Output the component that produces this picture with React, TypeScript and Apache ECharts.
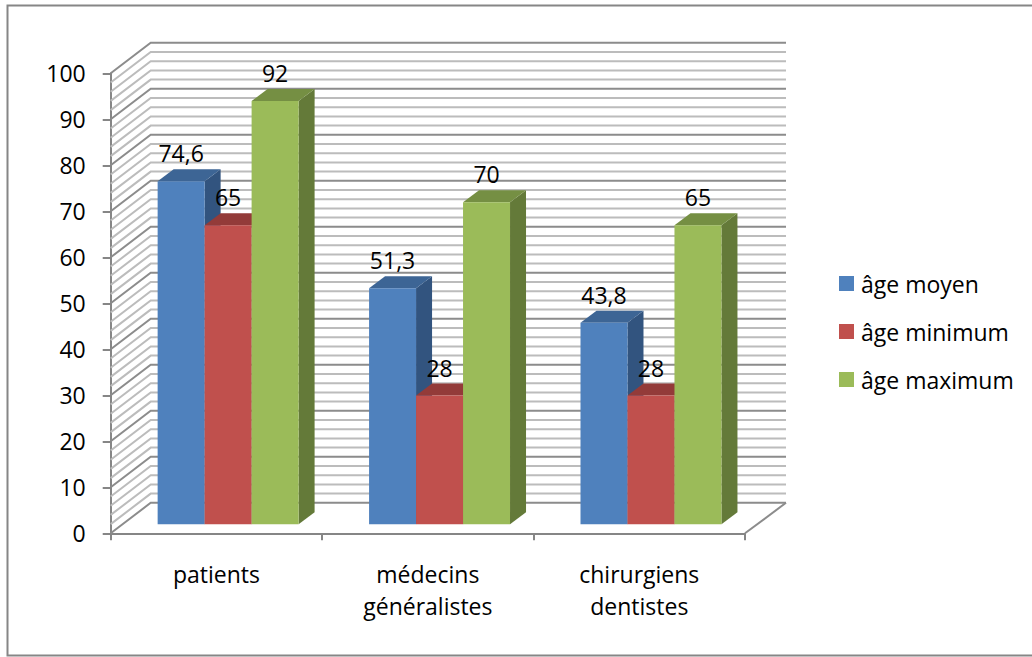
import React, { useEffect, useRef } from "react";
import * as echarts from "echarts";

const categories = ["patients", "médecins\ngénéralistes", "chirurgiens\ndentistes"];
const ageMoyen = [74.6, 51.3, 43.8];
const ageMinimum = [65, 28, 28];
const ageMaximum = [92, 70, 65];
const seriesNames = ["âge moyen", "âge minimum", "âge maximum"];
const wallTicks = [0, 2, 4, 6, 8, 10, 12, 14, 16, 18, 20, 22, 24, 26, 28, 30, 32, 34, 36, 38, 40, 42, 44, 46, 48, 50, 52, 54, 56, 58, 60, 62, 64, 66, 68, 70, 72, 74, 76, 78, 80, 82, 84, 86, 88, 90, 92, 94, 96, 98, 100];

const FONT = "Open Sans";
const faces = [
  { front: "#4f81bd", top: "#3d6595", side: "#32547f" },
  { front: "#c0504d", top: "#933b39", side: "#7c3230" },
  { front: "#9bbb59", top: "#758f43", side: "#647a39" },
];
const WALL_DX = 40;
const WALL_DY = -30.5;
const BAR_DX = 11.7;
const BAR_DY = -9;
const SIDE_DX = 16;
const SIDE_DY = -12;

const fmt = (v: number) => String(v).replace(".", ",");

function barGeom(api: any, seriesIndex: number) {
  const cat = api.value(0);
  const val = api.value(1);
  const top = api.coord([cat, val]);
  const base = api.coord([cat, 0]);
  const bw = api.size([1, 0])[0] / 4.5;
  const left = top[0] + BAR_DX + (seriesIndex - 1.5) * bw;
  return { left, right: left + bw, topY: top[1] + BAR_DY, baseY: base[1] + BAR_DY };
}

function barSeries(seriesIndex: number, values: number[]) {
  const c = faces[seriesIndex];
  return {
    type: "custom",
    name: seriesNames[seriesIndex],
    z: 3 + seriesIndex,
    silent: true,
    clip: false,
    itemStyle: { color: c.front },
    encode: { x: 0, y: 1 },
    data: values.map((v, i) => [i, v]),
    renderItem: (_p: any, api: any) => {
      const { left, right, topY, baseY } = barGeom(api, seriesIndex);
      return {
        type: "group",
        children: [
          {
            type: "polygon",
            shape: { points: [[right, topY], [right + SIDE_DX, topY + SIDE_DY], [right + SIDE_DX, baseY + SIDE_DY], [right, baseY]] },
            style: { fill: c.side },
          },
          {
            type: "polygon",
            shape: { points: [[left, topY], [left + SIDE_DX, topY + SIDE_DY], [right + SIDE_DX, topY + SIDE_DY], [right, topY]] },
            style: { fill: c.top },
          },
          {
            type: "rect",
            shape: { x: left, y: topY, width: right - left, height: baseY - topY },
            style: { fill: c.front },
          },
        ],
      };
    },
  };
}

function labelSeries(seriesIndex: number, values: number[]) {
  return {
    type: "custom",
    name: "étiquettes " + seriesNames[seriesIndex],
    z: 10,
    silent: true,
    clip: false,
    encode: { x: 0, y: 1 },
    data: values.map((v, i) => [i, v]),
    renderItem: (_p: any, api: any) => {
      const { left, right, topY } = barGeom(api, seriesIndex);
      return {
        type: "text",
        x: (left + right) / 2,
        y: topY - 28,
        style: {
          text: fmt(api.value(1)),
          fill: "#000",
          fontSize: 23,
          fontFamily: FONT,
          align: "center",
          verticalAlign: "middle",
        },
      };
    },
  };
}

const wallSeries = {
  type: "custom",
  name: "murs",
  z: 1,
  silent: true,
  clip: false,
  encode: { y: 0 },
  data: wallTicks.map((t) => [0, t]),
  renderItem: (params: any, api: any) => {
    const v = api.value(1);
    const y = api.coord([0, v])[1];
    const x0 = params.coordSys.x;
    const x1 = x0 + params.coordSys.width;
    const major = v % 10 === 0;
    const stroke = major ? "#8c8c8c" : "#bcbcbc";
    const children: any[] = [
      {
        type: "polyline",
        shape: { points: [[x0, y], [x0 + WALL_DX, y + WALL_DY], [x1 + WALL_DX + 1, y + WALL_DY]] },
        style: { stroke, lineWidth: 2, fill: "none" },
      },
    ];
    if (v === 0) {
      children.push({
        type: "line",
        shape: { x1: x1, y1: y, x2: x1 + WALL_DX + 1, y2: y + WALL_DY },
        style: { stroke, lineWidth: 2 },
      });
    }
    return { type: "group", children };
  },
};

export default function App() {
  const ref = useRef<HTMLDivElement>(null);
  useEffect(() => {
    const chart = echarts.init(ref.current!, undefined, { renderer: "svg" });
    const axisLine = { show: true, lineStyle: { color: "#868686", width: 2 } };
    chart.setOption({
      animation: false,
      backgroundColor: "#fff",
      textStyle: { fontFamily: FONT },
      grid: { left: 110.7, right: 1032 - 745, top: 73.3, bottom: 657 - 533.3, containLabel: false },
      graphic: [
        {
          type: "rect",
          shape: { x: 7.5, y: 5.5, width: 1060, height: 650 },
          style: { fill: "none", stroke: "#868686", lineWidth: 2 },
          silent: true,
        },
      ],
      legend: {
        orient: "vertical",
        left: 839,
        top: 272,
        padding: 0,
        icon: "rect",
        itemWidth: 15,
        itemHeight: 15,
        itemGap: 25,
        data: seriesNames,
        selectedMode: false,
        textStyle: { color: "#000", fontSize: 23, fontFamily: FONT, padding: [0, 0, 0, 2] },
      },
      xAxis: {
        type: "category",
        data: categories,
        axisLine,
        axisTick: { show: true, length: 7, lineStyle: { color: "#868686", width: 2 } },
        axisLabel: { color: "#000", fontSize: 23, fontFamily: FONT, margin: 25, lineHeight: 32, interval: 0 },
      },
      yAxis: {
        type: "value",
        min: 0,
        max: 100,
        interval: 10,
        axisLine,
        axisTick: { show: true, length: 8, lineStyle: { color: "#868686", width: 2 } },
        splitLine: { show: false },
        axisLabel: { color: "#000", fontSize: 23, fontFamily: FONT, margin: 25 },
      },
      series: [
        wallSeries,
        barSeries(0, ageMoyen),
        barSeries(1, ageMinimum),
        barSeries(2, ageMaximum),
        labelSeries(0, ageMoyen),
        labelSeries(1, ageMinimum),
        labelSeries(2, ageMaximum),
      ],
    });
    return () => chart.dispose();
  }, []);
  return <div ref={ref} style={{ position: "absolute", left: 0, top: 0, width: 1032, height: 657 }} />;
}
